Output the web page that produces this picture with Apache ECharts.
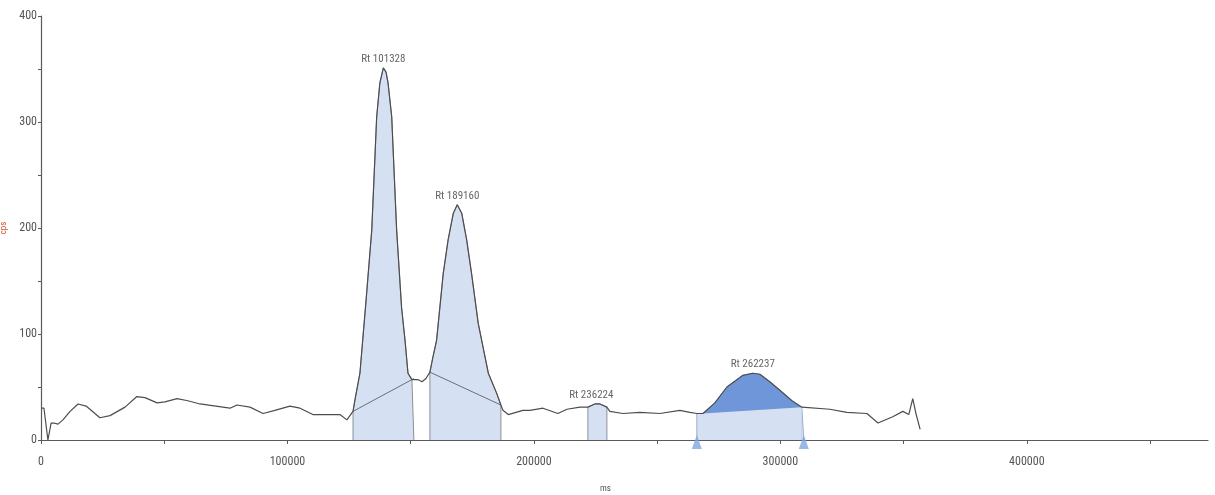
<!DOCTYPE html>
<html>
<head>
<meta charset="utf-8">
<script src="https://cdn.jsdelivr.net/npm/echarts@6/dist/echarts.min.js"></script>
<style>
  html, body { margin: 0; padding: 0; background: #ffffff; }
  #chart { width: 1215px; height: 495px; }
</style>
</head>
<body>
<div id="chart"></div>
<script>
// Chromatogram trace: retention time (ms) and intensity (cps)
const curveMs = [300, 1200, 2800, 4100, 5300, 6900, 8900, 11800, 15000, 18300, 23900, 28000, 34100, 38900, 42200, 47100, 50300, 55200, 59600, 64500, 73800, 76700, 79500, 84800, 90100, 94900, 101000, 105100, 110300, 121300, 124100, 126600, 127400, 129400, 131900, 134200, 136200, 137500, 138900, 140000, 140800, 142300, 144300, 146300, 147700, 148900, 150500, 151300, 152900, 154600, 156200, 157800, 159000, 160500, 163200, 165200, 167300, 168900, 170700, 172700, 174700, 177400, 181500, 184900, 186600, 187400, 189600, 190300, 195500, 198400, 203700, 209700, 213400, 218700, 221900, 224700, 226800, 229600, 230800, 236100, 243000, 251100, 259200, 263300, 266100, 268600, 273400, 278300, 284800, 288800, 291700, 295700, 299800, 304700, 308700, 309500, 320100, 327000, 335100, 339600, 345600, 349700, 352100, 353700, 355000, 356700];
const curveCps = [30, 30, 0, 16, 16, 15, 19, 27, 34, 32, 21, 23, 31, 41, 40, 35, 36, 39, 37, 34, 31, 30, 33, 31, 25, 28, 32, 30, 24, 24, 19, 27, 38, 63, 132, 198, 305, 337, 351, 347, 337, 305, 198, 125, 94, 63, 57, 58, 57, 55, 58, 64, 78, 94, 157, 189, 214, 222, 214, 189, 157, 110, 63, 44, 33, 28, 24, 24, 28, 28, 30, 25, 29, 31, 31, 34, 34, 31, 27, 25, 26, 25, 28, 26, 25, 25, 35, 50, 61, 63, 62, 55, 47, 37, 31, 31, 29, 26, 25, 16, 22, 27, 24, 39, 25, 10];

// Integrated peaks
const peakLabels = ['Rt 101328', 'Rt 189160', 'Rt 236224', 'Rt 262237'];
const peakStartMs = [126600, 157800, 221900, 266100];
const peakEndMs = [151300, 186600, 229600, 309500];
const peakApexMs = [138900, 168900, 223300, 288800];
const peakApexCps = [351, 222, 34, 63];

// Drawn baselines under peaks (start/end points)
const baseStartMs = [126600, 157800, null, 268600];
const baseStartCps = [27, 64, null, 25];
const baseEndMs = [151300, 186600, null, 308700];
const baseEndCps = [58, 33, null, 31];

// Integration markers on the time axis (peak 4)
const markerMs = [266100, 309500];

const xTickValues = [0, 50000, 100000, 150000, 200000, 250000, 300000, 350000, 400000, 450000];
const xLabelValues = [0, 100000, 200000, 300000, 400000];

const FONT = "'Liberation Sans Narrow', 'Roboto Condensed', 'DejaVu Sans Condensed', sans-serif";
const LIGHT = '#d5e1f2';
const DARK = '#6e96d9';
const LINE = '#4d4d4d';
const AXIS = '#5a5a5a';

const curve = curveMs.map((x, i) => [x, curveCps[i]]);

function segment(from, to) {
  return curve.filter(p => p[0] >= from && p[0] <= to);
}

const series = [];

// light fill under each integrated peak, with vertical edges
peakStartMs.forEach((s, i) => {
  const seg = segment(s, peakEndMs[i]);
  series.push({
    type: 'line',
    data: [[s, 0]].concat(seg, [[peakEndMs[i], 0]]),
    showSymbol: false,
    silent: true,
    lineStyle: { color: i === 3 ? '#9aaecb' : '#8a8f99', width: 1 },
    areaStyle: { color: LIGHT, opacity: 1, origin: 'start' },
    z: 2
  });
});

// dark fill of peak 4 above its baseline
series.push({
  type: 'line',
  data: segment(baseStartMs[3], baseEndMs[3]),
  showSymbol: false,
  silent: true,
  lineStyle: { width: 0 },
  areaStyle: { color: DARK, opacity: 1, origin: 'start' },
  z: 3
});
series.push({
  type: 'line',
  data: [[baseStartMs[3], baseStartCps[3]], [baseEndMs[3], baseEndCps[3]]],
  showSymbol: false,
  silent: true,
  lineStyle: { width: 0 },
  areaStyle: { color: LIGHT, opacity: 1, origin: 'start' },
  z: 3
});

// baselines of peaks 1 and 2
[0, 1].forEach(i => {
  series.push({
    type: 'line',
    data: [[baseStartMs[i], baseStartCps[i]], [baseEndMs[i], baseEndCps[i]]],
    showSymbol: false,
    silent: true,
    lineStyle: { color: '#6b6f76', width: 1 },
    z: 4
  });
});

// main trace
series.push({
  type: 'line',
  data: curve,
  showSymbol: false,
  silent: true,
  lineStyle: { color: LINE, width: 1.2 },
  z: 5
});

// peak labels
series.push({
  type: 'scatter',
  data: peakApexMs.map((x, i) => ({ value: [x, peakApexCps[i]], name: peakLabels[i] })),
  symbolSize: 0,
  itemStyle: { color: 'transparent' },
  silent: true,
  label: {
    show: true,
    position: 'top',
    distance: 3,
    formatter: p => p.name,
    color: '#3c3c3c',
    fontFamily: FONT,
    fontSize: 11
  },
  z: 6
});

// triangle markers on the axis
series.push({
  type: 'scatter',
  data: markerMs.map(x => [x, 0]),
  symbol: 'triangle',
  symbolSize: [10, 14],
  symbolOffset: [0, 2],
  itemStyle: { color: '#7fa6e2' },
  silent: true,
  z: 7
});

const chart = echarts.init(document.getElementById('chart'), null, { renderer: 'canvas' });
chart.setOption({
  animation: false,
  backgroundColor: '#ffffff',
  grid: { left: 41, right: 7, top: 16, bottom: 55, containLabel: false, outerBoundsMode: 'none' },
  xAxis: {
    type: 'value',
    min: 0,
    max: 473500,
    name: 'ms',
    nameLocation: 'middle',
    nameGap: 44,
    nameTextStyle: { color: '#555', fontFamily: FONT, fontSize: 9, padding: [0, 38, 0, 0] },
    axisLine: { lineStyle: { color: AXIS, width: 1.2 } },
    axisTick: { show: true, length: 4, customValues: xTickValues, lineStyle: { color: AXIS } },
    axisLabel: {
      customValues: xLabelValues,
      formatter: v => String(v),
      color: '#555', fontFamily: FONT, fontSize: 12, margin: 16
    },
    splitLine: { show: false }
  },
  yAxis: {
    type: 'value',
    min: 0,
    max: 400,
    interval: 100,
    name: 'cps',
    nameLocation: 'middle',
    nameRotate: 90,
    nameGap: 28,
    nameTextStyle: { color: '#d0502f', fontFamily: FONT, fontSize: 9 },
    axisLine: { show: true, lineStyle: { color: AXIS, width: 1.2 } },
    axisTick: { show: true, length: 3, lineStyle: { color: AXIS } },
    minorTick: { show: true, splitNumber: 2, length: 3, lineStyle: { color: AXIS } },
    axisLabel: { formatter: v => String(v), color: '#555', fontFamily: FONT, fontSize: 12, margin: 4 },
    splitLine: { show: false },
    minorSplitLine: { show: false }
  },
  series: series
});
</script>
</body>
</html>
